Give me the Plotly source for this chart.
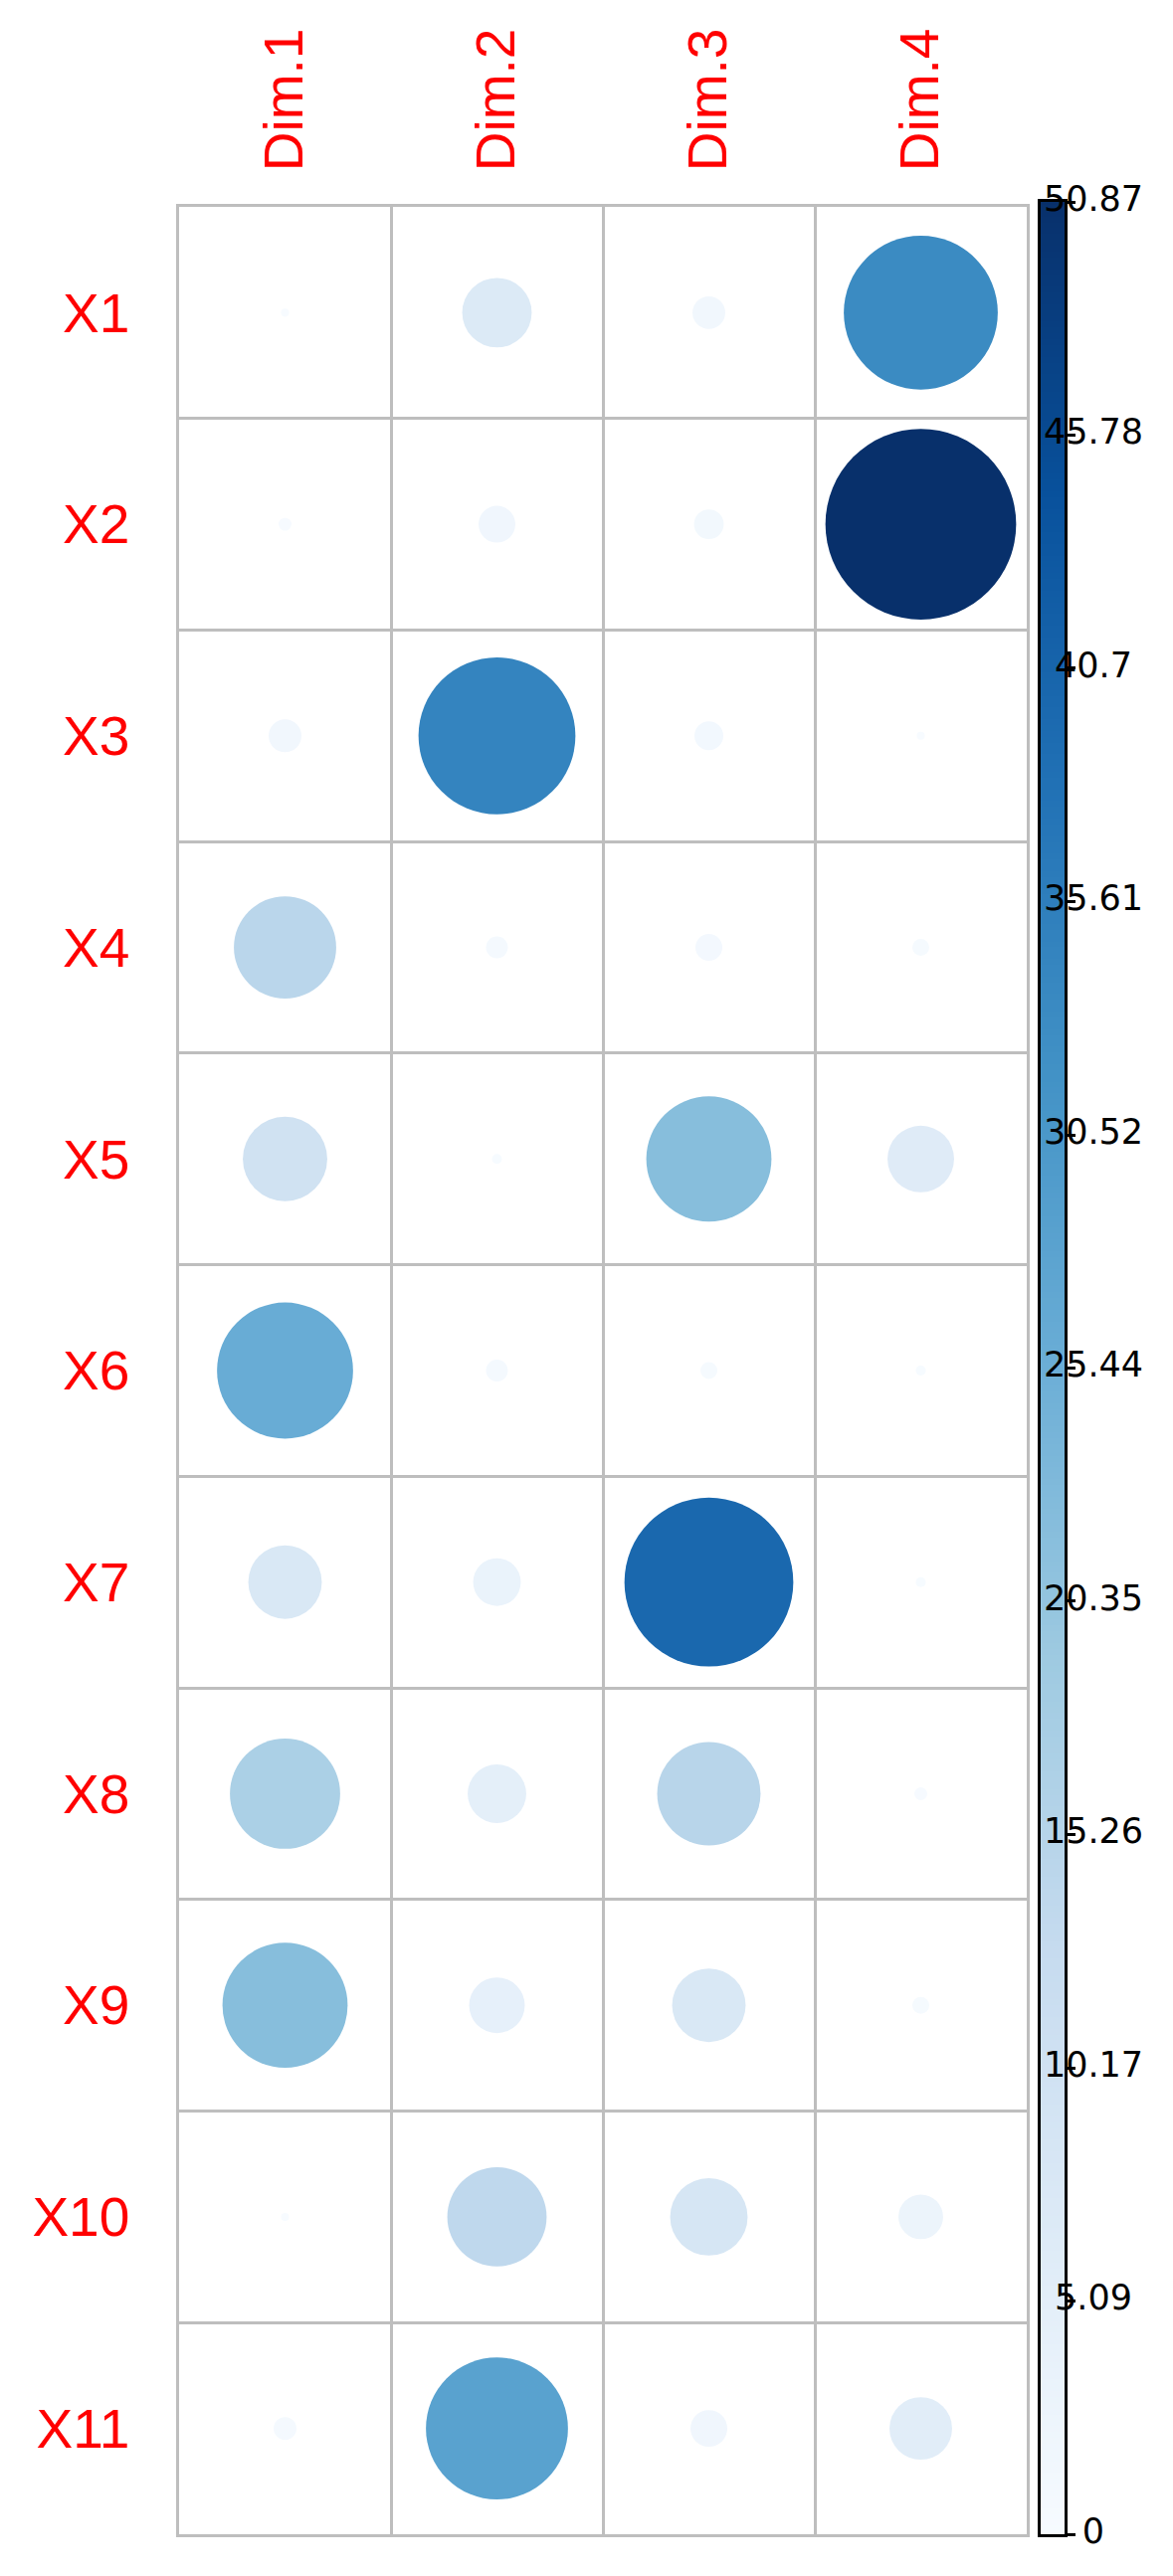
import numpy as np
import plotly.graph_objects as go

# ---- data (contributions) ----
rows = ["X1", "X2", "X3", "X4", "X5", "X6", "X7", "X8", "X9", "X10", "X11"]
cols = ["Dim.1", "Dim.2", "Dim.3", "Dim.4"]
dim1 = [0.09, 0.23, 1.50, 14.64, 9.97, 25.90, 7.56, 17.00, 21.91, 0.09, 0.73]
dim2 = [6.76, 1.89, 34.45, 0.67, 0.14, 0.67, 3.18, 4.80, 4.33, 13.80, 28.22]
dim3 = [1.50, 1.24, 1.16, 1.01, 21.91, 0.40, 39.88, 14.93, 7.56, 8.40, 1.89]
dim4 = [33.15, 50.87, 0.09, 0.40, 6.19, 0.14, 0.14, 0.23, 0.40, 2.79, 5.48]
tick_vals = [0, 5.09, 10.17, 15.26, 20.35, 25.44, 30.52, 35.61, 40.7, 45.78, 50.87]
tick_text = ["0", "5.09", "10.17", "15.26", "20.35", "25.44", "30.52", "35.61", "40.7", "45.78", "50.87"]
vmax = 50.87

blues = ["#F7FBFF", "#DEEBF7", "#C6DBEF", "#9ECAE1", "#6BAED6",
         "#4292C6", "#2171B5", "#08519C", "#08306B"]
colorscale = [[i / (len(blues) - 1), c] for i, c in enumerate(blues)]

# ---- layout geometry ----
W, H = 1179, 2590
ML, MR, MT, MB = 172, 0, 195, 50
PW = W - ML - MR
PH = H - MT - MB
grid_w = 852
grid_h = 2340
cell = grid_w / len(cols)
max_diam = 0.9 * cell
bar_l, bar_r = 1038, 1062
label_center = 1091

xs, ys, vs = [], [], []
series = [dim1, dim2, dim3, dim4]
for ci, c in enumerate(cols):
    for ri, r in enumerate(rows):
        xs.append(c)
        ys.append(r)
        vs.append(series[ci][ri])

fig = go.Figure()
fig.add_trace(go.Scatter(
    x=xs, y=ys, mode="markers",
    marker=dict(
        size=vs, sizemode="area", sizeref=2 * vmax / (max_diam ** 2), sizemin=0,
        color=vs, colorscale=colorscale, cmin=0, cmax=vmax,
        line=dict(width=0), opacity=1, showscale=False,
    ),
    hoverinfo="x+y+text", text=[str(v) for v in vs],
    cliponaxis=False, showlegend=False,
))

# colour bar drawn as a strip on its own axes
grad = np.linspace(0, vmax, 400)
fig.add_trace(go.Heatmap(
    x=[0], y=grad, z=[[g] for g in grad], colorscale=colorscale,
    zmin=0, zmax=vmax, showscale=False, hoverinfo="skip",
    xaxis="x2", yaxis="y2",
))
# colour bar labels on a third subplot drawn above the strip
fig.add_trace(go.Scatter(
    x=[0] * len(tick_vals), y=tick_vals, text=tick_text, mode="text",
    textposition="middle center",
    textfont=dict(family="DejaVu Sans", size=35, color="black"),
    xaxis="x3", yaxis="y3", showlegend=False, hoverinfo="skip", cliponaxis=False,
))

label_font = dict(family="Liberation Sans, Arial", size=55, color="#FF0000")
fig.update_layout(
    width=W, height=H,
    margin=dict(l=ML, r=MR, t=MT, b=MB, pad=0),
    paper_bgcolor="white", plot_bgcolor="white",
    xaxis=dict(
        domain=[0, grid_w / PW], type="category",
        categoryorder="array", categoryarray=cols, range=[-0.5, 3.5],
        side="top", tickangle=-90, tickfont=label_font,
        tickson="boundaries", ticks="", showgrid=True,
        gridcolor="#BEBEBE", gridwidth=2.5,
        showline=True, mirror=True, linecolor="#BEBEBE", linewidth=2.5,
        ticklabelstandoff=22, zeroline=False, fixedrange=True,
    ),
    yaxis=dict(
        domain=[0, grid_h / PH], type="category",
        categoryorder="array", categoryarray=rows[::-1], range=[-0.5, 10.5],
        tickfont=label_font,
        tickson="boundaries", ticks="", showgrid=True,
        gridcolor="#BEBEBE", gridwidth=2.5,
        showline=True, mirror=True, linecolor="#BEBEBE", linewidth=2.5,
        ticklabelstandoff=36, zeroline=False, fixedrange=True,
    ),
    xaxis2=dict(domain=[(bar_l - ML) / PW, (bar_r - ML) / PW], range=[-0.5, 0.5],
                anchor="y2", showgrid=False, zeroline=False, showticklabels=False,
                ticks="", showline=True, mirror=True, linecolor="black", linewidth=3,
                fixedrange=True),
    yaxis2=dict(domain=[0, 1], range=[0, vmax], anchor="x2", side="right",
                showgrid=False, zeroline=False, showticklabels=False,
                tickmode="array", tickvals=tick_vals, ticks="outside", ticklen=8,
                tickwidth=2.5, tickcolor="black",
                showline=True, mirror=True, linecolor="black", linewidth=3,
                fixedrange=True),
    xaxis3=dict(domain=[(label_center - 10 - ML) / PW, (label_center + 10 - ML) / PW],
                range=[-1, 1], anchor="y3", visible=False, fixedrange=True),
    yaxis3=dict(domain=[0, 1], range=[0, vmax], anchor="x3", visible=False,
                fixedrange=True),
)

fig.write_html("out.html")
